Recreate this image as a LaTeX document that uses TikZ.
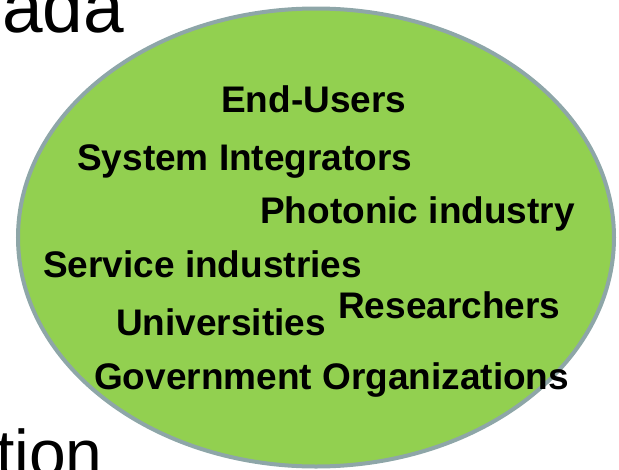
\documentclass[tikz,border=0pt]{standalone}
\usepackage{fontspec}
\setmainfont{Liberation Sans}
\definecolor{fillgreen}{HTML}{92D050}
\definecolor{rimgray}{HTML}{8EA6A8}
\tikzset{
  lbl/.style={anchor=base west, inner sep=0pt, font=\fontsize{37}{40}\selectfont\bfseries, text=black},
  bigA/.style={anchor=base west, inner sep=0pt, font=\fontsize{73}{80}\selectfont, text=black},
  bigB/.style={anchor=base west, inner sep=0pt, font=\fontsize{66}{72}\selectfont, text=black},
  blob/.style={fill=fillgreen, draw=rimgray, line width=4pt}
}
\begin{document}
\begin{tikzpicture}[x=1pt,y=-1pt]
\useasboundingbox (0,0) rectangle (619,469);
\begin{scope}
\clip (0,0) rectangle (619,469);
\node[bigA] (ada) at (2,32) {ada};
\node[bigB] (tion) at (-4,476) {tion};
\fill[blob] (316,237.5) ellipse [x radius=298, y radius=229];
\node[lbl] (endusers) at (221,112) {End-Users};
\node[lbl] (sysint) at (77,170) {System Integrators};
\node[lbl] (photonic) at (260,223) {Photonic industry};
\node[lbl] (service) at (43,277) {Service industries};
\node[lbl] (research) at (338,318) {Researchers};
\node[lbl] (univ) at (116,335) {Universities};
\node[lbl] (gov) at (94,389) {Government Organizations};
\end{scope}
\end{tikzpicture}
\end{document}
